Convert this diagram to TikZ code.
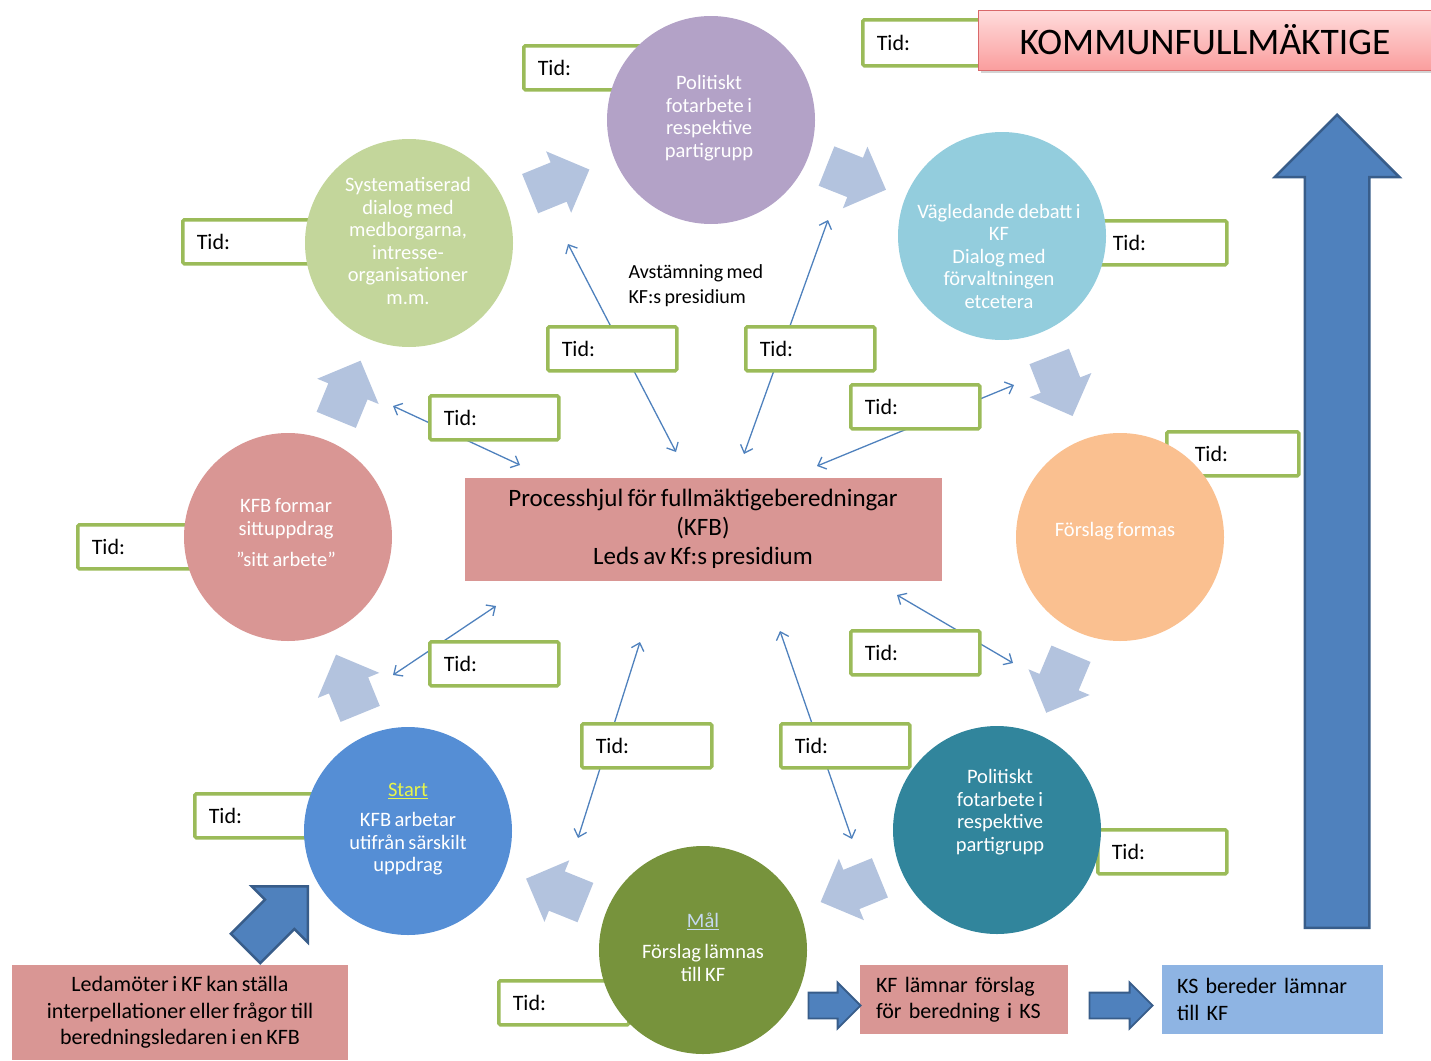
\documentclass[tikz,border=0pt]{standalone}
\usepackage{fontspec}
\setmainfont{Carlito}[WordSpace=0.75]
\usetikzlibrary{arrows.meta, calc, shapes.arrows, shadows, positioning}

\definecolor{tidgreen}{HTML}{9BBB59}
\definecolor{linkblue}{HTML}{4F81BD}
\definecolor{flowblue}{HTML}{B3C3DE}
\definecolor{kfblue}{HTML}{4F81BD}
\definecolor{kfblueline}{HTML}{385D8A}
\definecolor{rosy}{HTML}{D99694}
\definecolor{ksblue}{HTML}{8EB4E3}
\definecolor{titletop}{HTML}{FFDCDC}
\definecolor{titlebot}{HTML}{FA9E9E}
\definecolor{titleline}{HTML}{D9686A}
\definecolor{polpurple}{HTML}{B3A2C7}
\definecolor{vagblue}{HTML}{93CDDD}
\definecolor{forange}{HTML}{FAC090}
\definecolor{polteal}{HTML}{31859C}
\definecolor{malgreen}{HTML}{77933C}
\definecolor{startblue}{HTML}{558ED5}
\definecolor{systgreen}{HTML}{C3D69B}
\definecolor{maltext}{HTML}{C6D9F1}
\definecolor{startyellow}{HTML}{E8F54A}

\begin{document}
\begin{tikzpicture}[x=1pt, y=-1pt,
    wheel/.style={circle, minimum size=208pt, inner sep=0pt},
    wheeltxt/.style={align=center, text=white, font=\fontsize{20.5}{22.5}\selectfont},
    tid/.style={draw=tidgreen, line width=3.5pt, fill=white, rounded corners=1.5pt, anchor=north west,
        minimum height=44pt, inner xsep=14pt, align=left, text=black, font=\fontsize{22}{24}\selectfont},
    link/.style={<->, >={Straight Barb[length=7pt, width=13pt]}, draw=linkblue, line width=1.3pt},
    flow/.style={single arrow, fill=flowblue, minimum height=64pt, inner xsep=0pt, inner ysep=21pt,
        single arrow head extend=12pt, anchor=tip},
    bigarrow/.style={single arrow, fill=kfblue, draw=kfblueline, line width=2.5pt, inner xsep=0pt},
    infobox/.style={inner sep=0pt, font=\fontsize{22}{26.5}\selectfont}]
    \useasboundingbox (0,0) rectangle (1431,1060);

    % thin links through the time boxes
    \coordinate (l1a) at (568,244);  \coordinate (l1b) at (676,452);
    \coordinate (l2a) at (828,220);  \coordinate (l2b) at (744,454);
    \coordinate (l3a) at (393,406);  \coordinate (l3b) at (520,465);
    \coordinate (l4a) at (1014,385); \coordinate (l4b) at (817,466);
    \coordinate (l5a) at (496,606);  \coordinate (l5b) at (393,675);
    \coordinate (l6a) at (897,595);  \coordinate (l6b) at (1013,663);
    \coordinate (l7a) at (640,642);  \coordinate (l7b) at (578,838);
    \coordinate (l8a) at (780,631);  \coordinate (l8b) at (852,839);
    \foreach \i in {1,...,8}
        \draw[link] (l\i a) -- (l\i b);

    % time boxes
    \node[tid, text width=112pt] (tA) at (522,44)   {Tid:};
    \node[tid, text width=122pt] (tB) at (181,218)  {Tid:};
    \node[tid, text width=112pt, minimum height=46pt] (tC) at (861,18) {Tid:};
    \node[tid, text width=100pt] (tD) at (1097,219) {Tid:};
    \node[tid, text width=104pt] (tE) at (1165,430) {\hspace*{14pt}Tid:};
    \node[tid, text width=102pt] (tF) at (76,523)   {Tid:};
    \node[tid, text width=102pt] (tG) at (193,792)  {Tid:};
    \node[tid, text width=101pt] (tH) at (1096,828) {Tid:};
    \node[tid, text width=102pt] (tI) at (497,979)  {Tid:};
    \node[tid, text width=101pt] (t1) at (546,325)  {Tid:};
    \node[tid, text width=101pt] (t2) at (744,325)  {Tid:};
    \node[tid, text width=101pt] (t3) at (428,394)  {Tid:};
    \node[tid, text width=101pt] (t4) at (849,383)  {Tid:};
    \node[tid, text width=101pt] (t5) at (428,640)  {Tid:};
    \node[tid, text width=101pt] (t6) at (849,629)  {Tid:};
    \node[tid, text width=102pt] (t7) at (580,722)  {Tid:};
    \node[tid, text width=101pt] (t8) at (779,722)  {Tid:};

    % the wheel
    \node[wheel, fill=polpurple] (pol1)    at (711,120)  {};
    \node[wheel, fill=vagblue]   (vag)     at (1002,236) {};
    \node[wheel, fill=forange]   (forslag) at (1120,537) {};
    \node[wheel, fill=polteal]   (pol2)    at (997,830)  {};
    \node[wheel, fill=malgreen]  (mal)     at (703,950)  {};
    \node[wheel, fill=startblue] (start)   at (408,831)  {};
    \node[wheel, fill=rosy]      (kfb)     at (288,537)  {};
    \node[wheel, fill=systgreen] (syst)    at (409,243)  {};

    \node[wheeltxt] (pol1txt) at (709,118) {Politiskt\\fotarbete i\\respektive\\partigrupp};
    \node[wheeltxt] (vagtxt) at (999,256) {Vägledande debatt i\\KF\\Dialog med\\förvaltningen\\etcetera};
    \node[wheeltxt] (forslagtxt) at (1115,531) {Förslag formas};
    \node[wheeltxt] (pol2txt) at (1000,812) {Politiskt\\fotarbete i\\respektive\\partigrupp};
    \node[wheeltxt] (maltxt) at (703,947) {\textcolor{maltext}{\underline{Mål}}\\[9pt]Förslag lämnas\\till KF};
    \node[wheeltxt] (starttxt) at (408,829) {\textcolor{startyellow}{\underline{Start}}\\[8pt]KFB arbetar\\utifrån särskilt\\uppdrag};
    \node[wheeltxt] (kfbtxt) at (286,533) {KFB formar\\sittuppdrag\\[9pt]”sitt arbete”};
    \node[wheeltxt] (systtxt) at (408,241) {Systematiserad\\dialog med\\medborgarna,\\intresse-\\organisationer\\m.m.};

    \foreach \a/\b in {syst/pol1, pol1/vag, vag/forslag, forslag/pol2, pol2/mal, mal/start, start/kfb, kfb/syst}
        \path let \p1 = ($(\b)-(\a)$), \n1 = {atan2(\y1,\x1)}, \p2 = ($(\a)!0.5!(\b)$) in
            node[flow, rotate=\n1] at ($(\p2)!32pt!(\b)$) {};

    % hub and notes
    \node[fill=rosy, minimum width=477pt, minimum height=103pt, align=center,
        font=\fontsize{25}{29}\selectfont] (hub) at (703,529)
        {Processhjul för fullmäktigeberedningar\\(KFB)\\Leds av Kf:s presidium};
    \node[anchor=west, align=left, font=\fontsize{20}{25}\selectfont] (avst) at (625,285.5)
        {Avstämning med\\KF:s presidium};

    \node[draw=titleline, line width=1pt, top color=titletop, bottom color=titlebot,
        drop shadow={opacity=0.35, shadow xshift=2pt, shadow yshift=-3pt},
        minimum width=453pt, minimum height=60pt, font=\fontsize{37.5}{40}\selectfont] (kf) at (1205,40)
        {KOMMUNFULLMÄKTIGE};

    \node[bigarrow, rotate=90, minimum height=813pt, inner ysep=31pt,
        single arrow head extend=30pt, anchor=tail] (up) at (1337,929) {};

    \node[infobox, fill=rosy, minimum width=336pt, minimum height=95pt, align=center] (led) at (180,1012.5)
        {Ledamöter i KF kan ställa\\interpellationer eller frågor till\\beredningsledaren i en KFB};
    \node[bigarrow, rotate=45, minimum height=88pt, inner ysep=19.5pt,
        single arrow head extend=19pt, anchor=tip] (push) at (309,885) {};

    \node[infobox, fill=rosy, text width=176pt, inner xsep=16pt, minimum height=69pt, align=left] (kfl) at (964,999.5)
        {KF lämnar förslag\\för beredning i KS};
    \node[infobox, fill=ksblue, text width=191pt, inner xsep=15pt, minimum height=69pt, align=left] (ksb) at (1272.5,999.5)
        {KS bereder lämnar\\till KF};
    \node[bigarrow, line width=1.8pt, minimum height=52pt, inner ysep=12pt,
        single arrow head extend=10pt, left=-2pt of kfl, yshift=-6pt] (to1) {};
    \node[bigarrow, line width=1.8pt, minimum height=63pt, inner ysep=12pt,
        single arrow head extend=10pt, left=8pt of ksb, yshift=-6pt] (to2) {};
\end{tikzpicture}
\end{document}
